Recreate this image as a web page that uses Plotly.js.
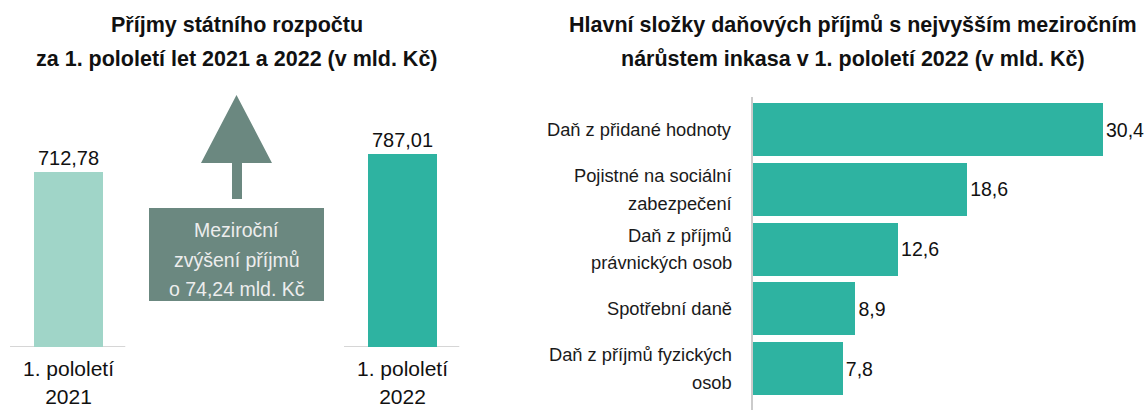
<!DOCTYPE html>
<html>
<head>
<meta charset="utf-8">
<script src="https://cdn.plot.ly/plotly-3.0.1.min.js"></script>
<style>html,body{margin:0;padding:0;background:#fff;}#chart{width:1148px;height:410px;}</style>
</head>
<body>
<div id="chart"></div>
<script>
// ---- data ----
const leftCategories = ["1. pololetí<br>2021", "1. pololetí<br>2022"];
const leftValues = [712.78, 787.01];
const leftColors = ["#a0d5c8", "#2eb3a1"];
const leftTitle = ["Příjmy státního rozpočtu", "za 1. pololetí let 2021 a 2022 (v mld. Kč)"];
const boxText = ["Meziroční", "zvýšení příjmů", "o 74,24 mld. Kč"];

const rightCategories = ["Daň z přidané hodnoty", "Pojistné na sociální<br>zabezpečení", "Daň z příjmů<br>právnických osob", "Spotřební daně", "Daň z příjmů fyzických<br>osob"];
const rightValues = [30.4, 18.6, 12.6, 8.9, 7.8];
const rightTitle = ["Hlavní složky daňových příjmů s nejvyšším meziročním", "nárůstem inkasa v 1. pololetí 2022 (v mld. Kč)"];

// ---- helpers ----
const W = 1148, H = 410;
const px = x => x / W;
const py = y => 1 - y / H;
const FONT = "Liberation Sans, Arial, sans-serif";

const leftIdx = leftCategories.map((c, i) => i);
const rightIdx = rightCategories.map((c, i) => i);

const traces = [
  {
    type: "bar", x: leftIdx, y: leftValues, xaxis: "x", yaxis: "y",
    marker: {color: leftColors}, width: 0.2066,
    texttemplate: "%{y:.2f}", textposition: "outside",
    textfont: {family: FONT, size: 20, color: "#111"}, cliponaxis: false,
    hoverinfo: "skip", showlegend: false
  },
  {
    type: "bar", orientation: "h", x: rightValues, y: rightIdx, xaxis: "x2", yaxis: "y2",
    marker: {color: "#2eb3a1"}, width: 0.887,
    texttemplate: "%{x:.1f}", textposition: "outside",
    textfont: {family: FONT, size: 19.5, color: "#111"}, cliponaxis: false,
    hoverinfo: "skip", showlegend: false
  }
];

const shapes = [];
// baseline segments under left bars
leftIdx.forEach(i => {
  shapes.push({type: "line", xref: "x", yref: "y", x0: i - 0.175, x1: i + 0.17, y0: 0, y1: 0,
    line: {color: "#d6d6d6", width: 2}, layer: "below"});
});
// arrow
const arrowPts = [[236.5,95],[272,163],[242,163],[242,199],[232,199],[232,163],[201,163]];
shapes.push({type: "path", xref: "paper", yref: "paper",
  path: "M " + arrowPts.map(p => px(p[0]).toFixed(5) + "," + py(p[1]).toFixed(5)).join(" L ") + " Z",
  fillcolor: "#6b8880", line: {width: 0}});
// box
shapes.push({type: "rect", xref: "paper", yref: "paper",
  x0: px(149), x1: px(324), y0: py(301), y1: py(208),
  fillcolor: "#6b8880", line: {width: 0}});

const annotations = [];
const boxY = [230, 260, 289];
boxText.forEach((t, k) => annotations.push({xref: "paper", yref: "paper", x: px(236.5), y: py(boxY[k]),
  text: t, showarrow: false, xanchor: "center", yanchor: "middle",
  font: {family: FONT, size: 19.5, color: "#ededed"}}));

const titleY = [25, 59];
leftTitle.forEach((t, k) => annotations.push({xref: "paper", yref: "paper", x: px(237), y: py(titleY[k]),
  text: "<b>" + t + "</b>", showarrow: false, xanchor: "center", yanchor: "middle",
  font: {family: FONT, size: 21.5, color: "#111"}}));
rightTitle.forEach((t, k) => annotations.push({xref: "paper", yref: "paper", x: px(853), y: py(titleY[k]),
  text: "<b>" + t + "</b>", showarrow: false, xanchor: "center", yanchor: "middle",
  font: {family: FONT, size: 21.5, color: "#111"}}));

// right category labels (line by line for the wider line spacing)
rightCategories.forEach((c, i) => {
  const lines = c.split("<br>");
  const n = lines.length;
  lines.forEach((ln, k) => annotations.push({xref: "paper", yref: "y2", x: px(734), y: i,
    yshift: ((n - 1) / 2 - k) * 27.5, text: ln, showarrow: false, xanchor: "right", yanchor: "middle",
    font: {family: FONT, size: 18.3, color: "#1a1a1a"}}));
});

const leftYMax = 267 * leftValues[1] / 193;
const layout = {
  width: W, height: H, margin: {l: 0, r: 0, t: 0, b: 0},
  paper_bgcolor: "#fff", plot_bgcolor: "rgba(0,0,0,0)",
  separators: ", ", font: {family: FONT, color: "#111"},
  xaxis: {domain: [px(1.7), px(469.3)], range: [-0.2, 1.2], tickvals: leftIdx, ticktext: leftCategories,
    showgrid: false, zeroline: false, showline: false, ticks: "outside", ticklen: 3, tickcolor: "rgba(0,0,0,0)",
    tickfont: {family: FONT, size: 21, color: "#111"}, fixedrange: true},
  yaxis: {domain: [py(347), py(80)], range: [0, leftYMax], visible: false, fixedrange: true},
  xaxis2: {domain: [px(753), 1], range: [0, 395 / (350 / 30.4)], visible: false, anchor: "y2", fixedrange: true},
  yaxis2: {domain: [0, py(97)], range: [4.694, -0.544], anchor: "x2", showgrid: false, zeroline: false,
    showline: true, linecolor: "#cbcbcb", linewidth: 2, showticklabels: false, ticks: "", fixedrange: true},
  shapes: shapes, annotations: annotations, showlegend: false, bargap: 0
};

Plotly.newPlot("chart", traces, layout, {displayModeBar: false, staticPlot: true});
</script>
</body>
</html>
